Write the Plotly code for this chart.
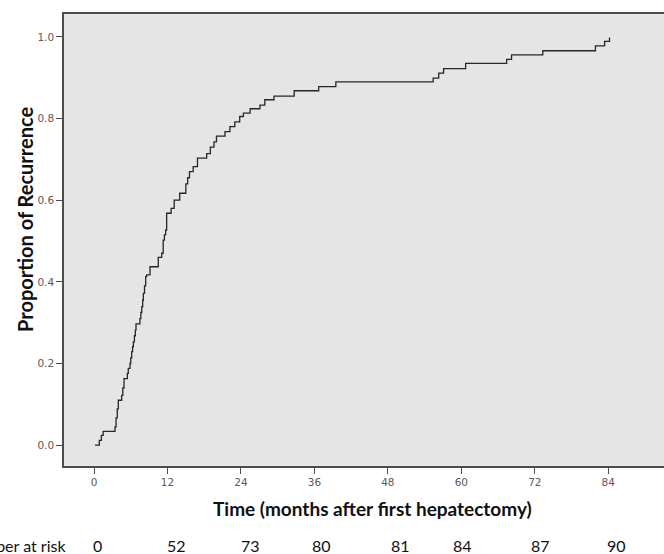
import plotly.graph_objects as go

# Cumulative proportion of recurrence (step curve)
months = [0.16, 0.87, 1.2, 1.5, 3.43, 3.6, 3.8, 3.97, 4.52, 4.7, 4.9, 5.45, 5.6, 5.88, 6.0,
          6.16, 6.3, 6.43, 6.6, 6.75, 6.86, 7.5, 7.65, 7.8, 7.95, 8.06, 8.25, 8.44, 8.6,
          9.15, 10.5, 11.06, 11.3, 11.5, 11.7, 11.87, 12.6, 13.1, 14.0, 15.0, 15.3, 15.6,
          16.2, 16.9, 18.4, 19.0, 19.6, 20.0, 21.4, 22.2, 23.0, 23.8, 24.4, 25.5, 27.1,
          27.9, 29.4, 32.7, 36.7, 39.5, 55.4, 56.3, 57.1, 60.7, 67.4, 68.2, 73.3, 81.9,
          83.4, 84.2, 84.3]
proportion = [0.0, 0.012, 0.024, 0.034, 0.045, 0.067, 0.089, 0.110, 0.122, 0.14, 0.163, 0.176,
              0.188, 0.20, 0.214, 0.229, 0.241, 0.253, 0.268, 0.282, 0.297, 0.31, 0.325,
              0.339, 0.355, 0.372, 0.39, 0.413, 0.417, 0.437, 0.46, 0.47, 0.502, 0.515,
              0.527, 0.568, 0.58, 0.60, 0.617, 0.64, 0.655, 0.67, 0.682, 0.703, 0.714,
              0.73, 0.743, 0.757, 0.768, 0.780, 0.792, 0.805, 0.813, 0.824, 0.833, 0.846,
              0.855, 0.868, 0.878, 0.890, 0.899, 0.911, 0.922, 0.935, 0.945, 0.956, 0.966,
              0.978, 0.989, 0.997, 0.997]

tick_months = [0, 12, 24, 36, 48, 60, 72, 84]
y_ticks = [0.0, 0.2, 0.4, 0.6, 0.8, 1.0]
y_tick_labels = ["0.0", "0.2", "0.4", "0.6", "0.8", "1.0"]
risk_positions = [0.55, 13.5, 25.6, 37.2, 50.0, 60.2, 72.9, 85.4]
risk_labels = ["0", "52", "73", "80", "81", "84", "87", "90"]

fig = go.Figure()
fig.add_trace(go.Scatter(x=months, y=proportion, mode="lines", line_shape="hv",
                         line=dict(color="#262626", width=1.3), hoverinfo="skip",
                         showlegend=False))

axis_col = "#4d4d4d"
fig.update_layout(
    width=664, height=554,
    margin=dict(l=64, r=0, t=14, b=88),
    paper_bgcolor="white", plot_bgcolor="#e5e5e5",
    font=dict(family="DejaVu Sans", color="#5a5a5a"),
    xaxis=dict(range=[-4.9, 93.1], tickvals=tick_months, ticktext=[str(t) for t in tick_months],
               showgrid=False, zeroline=False, showline=True, mirror=True,
               linecolor=axis_col, linewidth=1.5, ticks="outside", ticklen=6,
               tickcolor=axis_col, tickwidth=1.2,
               tickfont=dict(family="DejaVu Sans", size=10.5, color="#5a5a5a")),
    yaxis=dict(range=[-0.051, 1.056], tickvals=y_ticks, ticktext=y_tick_labels,
               showgrid=False, zeroline=False, showline=True,
               linecolor=axis_col, linewidth=1.5, ticks="outside", ticklen=6,
               tickcolor=axis_col, tickwidth=1.2,
               tickfont=dict(family="DejaVu Sans", size=10.5, color="#5a5a5a")),
)

def py(pix):
    return (554 - pix - 88) / 452

fig.add_annotation(text="<b>Time (months after first hepatectomy)</b>", xref="paper", yref="paper",
                   x=(372 - 64) / 600, y=py(508), xanchor="center", yanchor="middle",
                   showarrow=False, font=dict(family="Lato", size=19, color="#111111"))
fig.add_annotation(text="<b>Proportion of Recurrence</b>", xref="paper", yref="paper",
                   x=(25 - 64) / 600, y=py(220), xanchor="center", yanchor="middle",
                   textangle=-90, showarrow=False, font=dict(family="Lato", size=20, color="#111111"))
fig.add_annotation(text="Number at risk", xref="paper", yref="paper",
                   x=(68 - 64) / 600, y=py(545), xanchor="right", yanchor="middle",
                   showarrow=False, font=dict(family="Lato", size=16, color="#111111"))
for pos, lab in zip(risk_positions, risk_labels):
    fig.add_annotation(text=lab, xref="x", yref="paper", x=pos, y=py(545),
                       xanchor="center", yanchor="middle", showarrow=False,
                       font=dict(family="Lato", size=16, color="#111111"))

fig.write_html("out.html")
